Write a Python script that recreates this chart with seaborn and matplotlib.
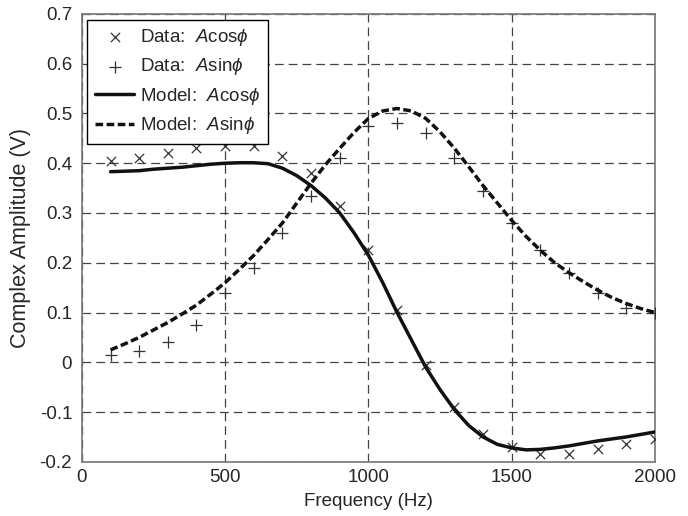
import numpy as np
import pandas as pd
import matplotlib
matplotlib.use('Agg')
import matplotlib.pyplot as plt
import seaborn as sns

# measured data (Hz, V)
freq = [100, 200, 300, 400, 500, 600, 700, 800, 900, 1000,
        1100, 1200, 1300, 1400, 1500, 1600, 1700, 1800, 1900, 2000]
data_cos = [0.405, 0.41, 0.42, 0.43, 0.435, 0.435, 0.415, 0.38, 0.315, 0.225,
            0.105, -0.005, -0.09, -0.145, -0.17, -0.185, -0.185, -0.175, -0.165, -0.155]
data_sin = [0.015, 0.022, 0.04, 0.075, 0.14, 0.19, 0.26, 0.335, 0.41, 0.475,
            0.48, 0.46, 0.41, 0.345, 0.28, 0.225, 0.18, 0.14, 0.11, 0.10]

# model curves
model_freq = [100, 150, 200, 250, 300, 350, 400, 450, 500, 550, 600, 650, 700, 750,
              800, 850, 900, 950, 1000, 1050, 1100, 1150, 1200, 1250, 1300, 1350,
              1400, 1450, 1500, 1550, 1600, 1650, 1700, 1750, 1800, 1850, 1900, 1950, 2000]
model_cos = [0.383, 0.384, 0.385, 0.388, 0.39, 0.392, 0.395, 0.398, 0.40, 0.401, 0.401,
             0.399, 0.39, 0.375, 0.355, 0.33, 0.30, 0.26, 0.215, 0.16, 0.10, 0.045,
             -0.01, -0.055, -0.095, -0.127, -0.15, -0.165, -0.172, -0.176, -0.175,
             -0.172, -0.168, -0.163, -0.158, -0.154, -0.15, -0.145, -0.14]
model_sin = [0.025, 0.037, 0.05, 0.065, 0.08, 0.097, 0.115, 0.137, 0.16, 0.187, 0.215,
             0.247, 0.28, 0.32, 0.36, 0.397, 0.43, 0.462, 0.49, 0.505, 0.51, 0.505,
             0.49, 0.463, 0.43, 0.393, 0.355, 0.32, 0.285, 0.253, 0.225, 0.2, 0.18,
             0.162, 0.145, 0.13, 0.118, 0.108, 0.10]

sns.set_style('white')
plt.rcParams['font.family'] = ['Liberation Sans', 'DejaVu Sans']
plt.rcParams['mathtext.fontset'] = 'custom'
plt.rcParams['mathtext.rm'] = 'Liberation Sans'
plt.rcParams['mathtext.it'] = 'Liberation Sans:italic'

fig, ax = plt.subplots(figsize=(6.88, 5.16), dpi=100)
fig.subplots_adjust(left=0.119, right=0.952, top=0.973, bottom=0.105)

sns.scatterplot(x=freq, y=data_cos, marker='x', s=45, color='#333333', linewidth=0.9,
                label=r'Data:  $A\mathrm{cos}\phi$', ax=ax, zorder=3)
sns.scatterplot(x=freq, y=data_sin, marker='+', s=80, color='#333333', linewidth=0.9,
                label=r'Data:  $A\mathrm{sin}\phi$', ax=ax, zorder=3)
sns.lineplot(x=model_freq, y=model_cos, color='#111111', linewidth=2.5,
             label=r'Model:  $A\mathrm{cos}\phi$', ax=ax, zorder=4)
sns.lineplot(x=model_freq, y=model_sin, color='#111111', linewidth=2.5,
             linestyle=(0, (2.2, 1.0)), label=r'Model:  $A\mathrm{sin}\phi$', ax=ax, zorder=4)

ax.set_xlim(0, 2000)
ax.set_ylim(-0.2, 0.7)
ax.set_xticks([0, 500, 1000, 1500, 2000])
ax.set_yticks(np.arange(-0.2, 0.71, 0.1))
ax.set_yticklabels(['-0.2', '-0.1', '0', '0.1', '0.2', '0.3', '0.4', '0.5', '0.6', '0.7'])
ax.grid(True, color='#444444', linestyle=(0, (7, 4)), linewidth=0.9)
ax.tick_params(direction='in', length=5, color='#777777', labelsize=13.5)
ax.tick_params(axis='y', pad=7)
ax.tick_params(axis='x', pad=5)
for sp in ax.spines.values():
    sp.set_color('#777777')
    sp.set_linewidth(1.2)

ax.set_xlabel('Frequency (Hz)', fontsize=13.5, labelpad=5)
ax.set_ylabel('Complex Amplitude (V)', fontsize=15.5, labelpad=6)

leg = ax.legend(loc='upper left', fontsize=13.5, fancybox=False, framealpha=1,
                edgecolor='black', borderaxespad=0.3, handlelength=2.1,
                handletextpad=0.3, labelspacing=0.45, borderpad=0.4)
leg.get_frame().set_linewidth(1.0)

plt.savefig('out.png', dpi=100)
